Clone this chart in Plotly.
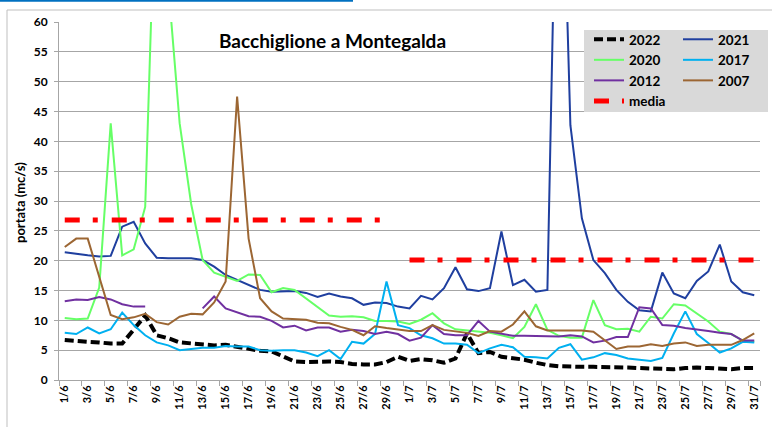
import plotly.graph_objects as go

days = ["1/6","2/6","3/6","4/6","5/6","6/6","7/6","8/6","9/6","10/6",
        "11/6","12/6","13/6","14/6","15/6","16/6","17/6","18/6","19/6","20/6",
        "21/6","22/6","23/6","24/6","25/6","26/6","27/6","28/6","29/6","30/6",
        "1/7","2/7","3/7","4/7","5/7","6/7","7/7","8/7","9/7","10/7",
        "11/7","12/7","13/7","14/7","15/7","16/7","17/7","18/7","19/7","20/7",
        "21/7","22/7","23/7","24/7","25/7","26/7","27/7","28/7","29/7","30/7","31/7"]

y2022 = [6.7,6.5,6.4,6.3,6.1,6.1,8.5,10.8,7.5,7.0,
         6.3,6.1,5.9,5.8,5.9,5.6,5.2,4.9,4.8,4.0,
         3.1,3.0,3.1,3.1,3.0,2.7,2.6,2.6,3.0,3.9,
         3.2,3.5,3.3,2.9,3.6,7.8,4.5,4.7,3.9,3.6,
         3.4,2.9,2.5,2.3,2.2,2.2,2.2,2.2,2.2,2.1,
         2.0,1.9,1.8,1.8,2.0,2.1,2.0,1.9,1.8,2.0,2.0]
y2021 = [21.4,21.1,20.9,20.7,20.8,25.7,26.5,22.9,20.5,20.4,
         20.4,20.4,20.1,19.0,17.6,16.8,15.9,15.1,14.8,14.9,
         14.9,14.6,13.9,14.5,14.0,13.7,12.6,13.0,12.9,12.3,
         12.0,14.1,13.5,15.4,18.9,15.2,14.9,15.4,24.9,15.9,
         16.8,14.8,15.1,110.0,42.7,27.1,20.1,17.9,15.1,13.1,
         11.7,11.5,18.0,14.5,13.7,16.6,18.2,22.7,16.5,14.7,14.2]
y2020 = [10.4,10.2,10.3,15.5,43.0,20.9,21.9,29.0,90.0,66.0,
         43.0,29.5,20.1,18.0,17.3,16.6,17.7,17.6,14.7,15.4,
         15.1,13.7,12.3,10.8,10.6,10.7,10.5,9.9,9.9,9.8,
         9.4,10.1,11.2,9.5,8.5,8.3,8.2,7.9,7.5,7.0,
         8.9,12.7,8.4,7.4,7.1,7.1,13.4,9.2,8.5,8.6,
         8.1,10.6,10.3,12.7,12.5,11.2,9.8,8.1,7.7,6.6,6.4]
y2017 = [7.9,7.7,8.8,7.8,8.5,11.3,9.2,7.5,6.3,5.8,
         5.0,5.2,5.4,5.4,5.7,5.6,5.6,5.0,4.9,5.0,
         5.0,4.6,4.0,5.0,3.5,6.4,6.1,7.7,16.5,9.2,
         8.7,7.5,7.0,6.1,6.1,5.9,4.5,5.3,5.9,5.5,
         3.9,3.8,3.6,5.4,6.0,3.4,3.8,4.5,4.2,3.6,
         3.4,3.2,3.7,7.8,11.5,7.7,6.2,4.6,5.3,6.4,6.3]
y2012 = [13.2,13.5,13.4,13.9,13.5,12.7,12.3,12.3,None,None,
         None,None,12.0,14.0,12.0,11.3,10.7,10.6,9.9,8.8,
         9.1,8.3,8.8,8.8,8.1,8.4,8.2,7.7,8.1,7.7,
         6.6,7.1,9.2,7.7,7.5,7.5,9.9,8.1,7.8,7.4,
         7.4,7.4,7.3,7.3,7.5,7.3,6.3,6.6,7.2,7.2,
         12.2,12.0,9.2,9.1,8.7,8.5,8.2,7.9,7.7,6.6,6.6]
y2007 = [22.3,23.7,23.7,17.3,10.9,10.2,10.5,11.1,9.7,9.3,
         10.6,11.1,11.0,13.0,16.5,47.5,23.7,13.7,11.5,10.3,
         10.2,10.1,9.6,9.5,8.9,8.4,7.5,9.0,8.7,8.4,
         8.2,8.2,9.2,8.4,8.1,7.9,7.4,8.2,8.1,9.3,
         11.5,9.0,8.3,8.3,8.3,8.3,8.1,6.7,5.2,5.6,
         5.6,6.0,5.7,6.1,6.3,5.7,5.9,5.9,5.9,6.7,7.8]
media = [26.8]*29 + [None] + [20.1]*31

yticks = [0,5,10,15,20,25,30,35,40,45,50,55,60]
xtick_labels = days[::2]

FONT = "Lato"
fig = go.Figure()

series = [
    ("2022", y2022, dict(color="#000000", width=4, dash="9px,4px"), "legend"),
    ("2021", y2021, dict(color="#1f3f9f", width=2), "legend2"),
    ("2020", y2020, dict(color="#66ff66", width=2), "legend"),
    ("2017", y2017, dict(color="#00b0f0", width=2), "legend2"),
    ("2012", y2012, dict(color="#7030a0", width=2), "legend"),
    ("2007", y2007, dict(color="#9c6633", width=2), "legend2"),
    ("media", media, dict(color="#ff0000", width=5, dash="15px,13px,5px,14px"), "legend"),
]
for name, vals, line, lg in series:
    fig.add_trace(go.Scatter(x=days, y=vals, name=name, mode="lines", line=line,
                             connectgaps=False, legend=lg, hoverinfo="skip"))

W, H = 772, 427
L, R, T, B = 59, 12, 22, 47
pw, ph = W - L - R, H - T - B

def px(xp):
    return (xp - L) / pw

def py(yp):
    return (H - B - yp) / ph

gray = "#a6a6a6"
fig.update_layout(
    width=W, height=H,
    margin=dict(l=L, r=R, t=T, b=B, autoexpand=False),
    paper_bgcolor="white", plot_bgcolor="white",
    font=dict(family=FONT, color="#000000"),
    xaxis=dict(type="category", categoryorder="array", categoryarray=days,
               range=[-0.5, len(days) - 0.5], tickmode="array", tickvals=xtick_labels,
               ticktext=xtick_labels, tickson="boundaries", ticks="outside", ticklen=5,
               tickcolor=gray, showline=True, linecolor=gray, linewidth=1,
               showgrid=False, tickangle=-90,
               tickfont=dict(family=FONT, size=11, weight="bold")),
    yaxis=dict(range=[0, 60], tickmode="array", tickvals=yticks, showgrid=True,
               gridcolor=gray, gridwidth=1, zeroline=False, showline=True,
               linecolor=gray, ticks="outside", ticklen=4, tickcolor=gray,
               ticklabelstandoff=4,
               tickfont=dict(family=FONT, size=12, weight="bold")),
    showlegend=True,
    legend=dict(x=px(589), y=py(24), xanchor="left", yanchor="top",
                bgcolor="rgba(0,0,0,0)", font=dict(family=FONT, size=13.5, weight="bold"),
                traceorder="normal", itemclick=False),
    legend2=dict(x=px(755), y=py(24), xanchor="right", yanchor="top",
                 bgcolor="rgba(0,0,0,0)", font=dict(family=FONT, size=13.5, weight="bold"),
                 traceorder="normal", itemclick=False),
    shapes=[
        dict(type="rect", xref="paper", yref="paper", x0=px(584), x1=px(768),
             y0=py(112), y1=py(30), fillcolor="#d9d9d9", line=dict(width=0), layer="above"),
        dict(type="rect", xref="paper", yref="paper", x0=px(7), x1=px(790),
             y0=py(440), y1=py(10), fillcolor="rgba(0,0,0,0)",
             line=dict(color="#bfbfbf", width=1), layer="below"),
        dict(type="line", xref="paper", yref="paper", x0=px(0), x1=px(353),
             y0=py(0.8), y1=py(0.8), line=dict(color="#0070c0", width=2)),
    ],
    annotations=[
        dict(text="Bacchiglione a Montegalda", xref="paper", yref="paper",
             x=px(332), y=py(40), xanchor="center", yanchor="middle", showarrow=False,
             font=dict(family=FONT, size=19, weight="bold")),
        dict(text="portata (mc/s)", xref="paper", yref="paper", x=px(20), y=py(203),
             xanchor="center", yanchor="middle", textangle=-90, showarrow=False,
             font=dict(family=FONT, size=13, weight="bold")),
    ],
)

fig.write_html("out.html", config={"displayModeBar": False},
               post_script="document.body.style.margin='0';document.body.style.overflow='hidden';")
